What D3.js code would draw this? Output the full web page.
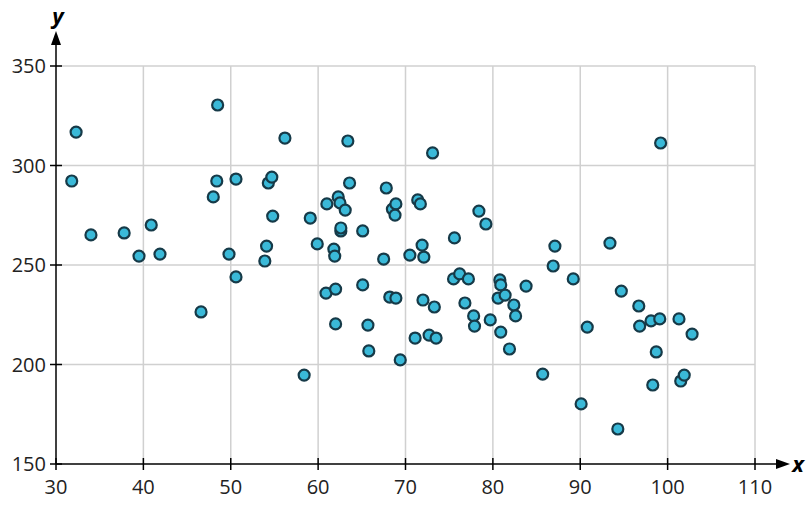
<!DOCTYPE html><html><head><meta charset="utf-8"><script src="https://cdn.jsdelivr.net/npm/d3@7"></script>
<style>body{margin:0;background:#fff}text{font-family:"Open Sans",sans-serif}</style></head><body><svg id="c" width="807" height="507"></svg><script>
const xs=[31.8,32.3,34.0,37.8,39.5,40.9,41.9,46.6,48.0,48.4,48.5,49.8,50.6,50.6,53.9,54.1,54.3,54.7,54.8,56.2,58.4,59.1,59.9,60.9,61.0,61.8,61.9,62.0,62.3,62.5,62.6,62.6,63.1,63.4,63.6,62.0,65.1,65.1,65.7,65.8,67.5,67.8,68.2,68.9,68.5,68.9,68.8,69.4,70.5,71.1,71.4,71.7,71.9,72.1,72.0,72.7,73.5,73.3,73.1,75.6,75.5,76.2,77.2,76.8,77.8,77.9,78.4,79.2,79.7,80.6,80.8,80.9,80.9,81.4,81.9,82.4,82.6,83.8,85.7,86.9,87.1,89.2,90.1,90.8,93.4,94.3,94.7,96.7,96.8,98.1,98.3,98.7,99.1,99.2,101.3,101.5,101.9,102.8];
const ys=[292.2,316.8,265.1,266.1,254.5,270.1,255.5,226.4,284.2,292.2,330.4,255.5,244,293.2,252,259.5,291.2,294.2,274.6,313.8,194.7,273.6,260.6,235.9,280.7,258,254.5,237.9,284.2,281.2,267.1,268.6,277.6,312.3,291.2,220.4,240,267.1,219.8,206.8,253,288.7,233.9,233.4,278.1,280.7,275.1,202.3,255,213.3,282.7,280.7,260,254,232.4,214.8,213.3,228.9,306.3,263.6,243,245.5,243,230.9,224.4,219.3,277.1,270.6,222.4,233.4,242.5,240,216.3,234.9,207.8,229.9,224.4,239.4,195.2,249.5,259.5,243,180.2,218.8,261,167.6,236.9,229.4,219.3,221.9,189.7,206.3,222.9,311.3,222.9,191.7,194.7,215.3];
const xTicks=[30,40,50,60,70,80,90,100,110];
const yTicks=[150,200,250,300,350];
const svg=d3.select("#c");
const x=d3.scaleLinear().domain([30,110]).range([56,755]);
const y=d3.scaleLinear().domain([150,350]).range([464,66]);
const g=svg.append("g");
g.selectAll(".vx").data(xTicks.slice(1)).join("line").attr("x1",d=>x(d)).attr("x2",d=>x(d)).attr("y1",y(350)).attr("y2",y(150)).attr("stroke","#d0d0d0").attr("stroke-width",1.5);
g.selectAll(".hy").data(yTicks.slice(1)).join("line").attr("x1",x(30)).attr("x2",x(110)).attr("y1",d=>y(d)).attr("y2",d=>y(d)).attr("stroke","#d0d0d0").attr("stroke-width",1.5);
svg.append("line").attr("x1",x(30)).attr("x2",778).attr("y1",y(150)).attr("y2",y(150)).attr("stroke","#000").attr("stroke-width",1.5);
svg.append("path").attr("d",`M790,${y(150)}L776,${y(150)-5}L776,${y(150)+5}Z`).attr("fill","#000");
svg.append("line").attr("x1",x(30)).attr("x2",x(30)).attr("y1",y(150)).attr("y2",44).attr("stroke","#000").attr("stroke-width",1.5);
svg.append("path").attr("d",`M${x(30)},31L${x(30)-5},45L${x(30)+5},45Z`).attr("fill","#000");
svg.selectAll(".xt").data(xTicks).join("line").attr("x1",d=>x(d)).attr("x2",d=>x(d)).attr("y1",y(150)-6).attr("y2",y(150)+6).attr("stroke","#000").attr("stroke-width",1.5);
svg.selectAll(".yt").data(yTicks).join("line").attr("x1",x(30)-6).attr("x2",x(30)+6).attr("y1",d=>y(d)).attr("y2",d=>y(d)).attr("stroke","#000").attr("stroke-width",1.5);
svg.selectAll(".xl").data(xTicks).join("text").attr("x",d=>x(d)).attr("y",y(150)+30).attr("text-anchor","middle").attr("font-size",20).attr("fill","#222").text(d=>d);
svg.selectAll(".yl").data(yTicks).join("text").attr("x",x(30)-10).attr("y",d=>y(d)+7).attr("text-anchor","end").attr("font-size",20).attr("fill","#222").text(d=>d);
svg.append("text").attr("x",798).attr("y",472).attr("text-anchor","middle").attr("font-size",22).attr("font-style","italic").attr("font-weight","bold").text("x");
svg.append("text").attr("x",58).attr("y",24).attr("text-anchor","middle").attr("font-size",22).attr("font-style","italic").attr("font-weight","bold").text("y");
svg.selectAll(".pt").data(xs.map((v,i)=>[v,ys[i]])).join("circle").attr("cx",d=>x(d[0])).attr("cy",d=>y(d[1])).attr("r",5.5).attr("fill","#3ab9d8").attr("stroke","#163a48").attr("stroke-width",2.2);
</script></body></html>
